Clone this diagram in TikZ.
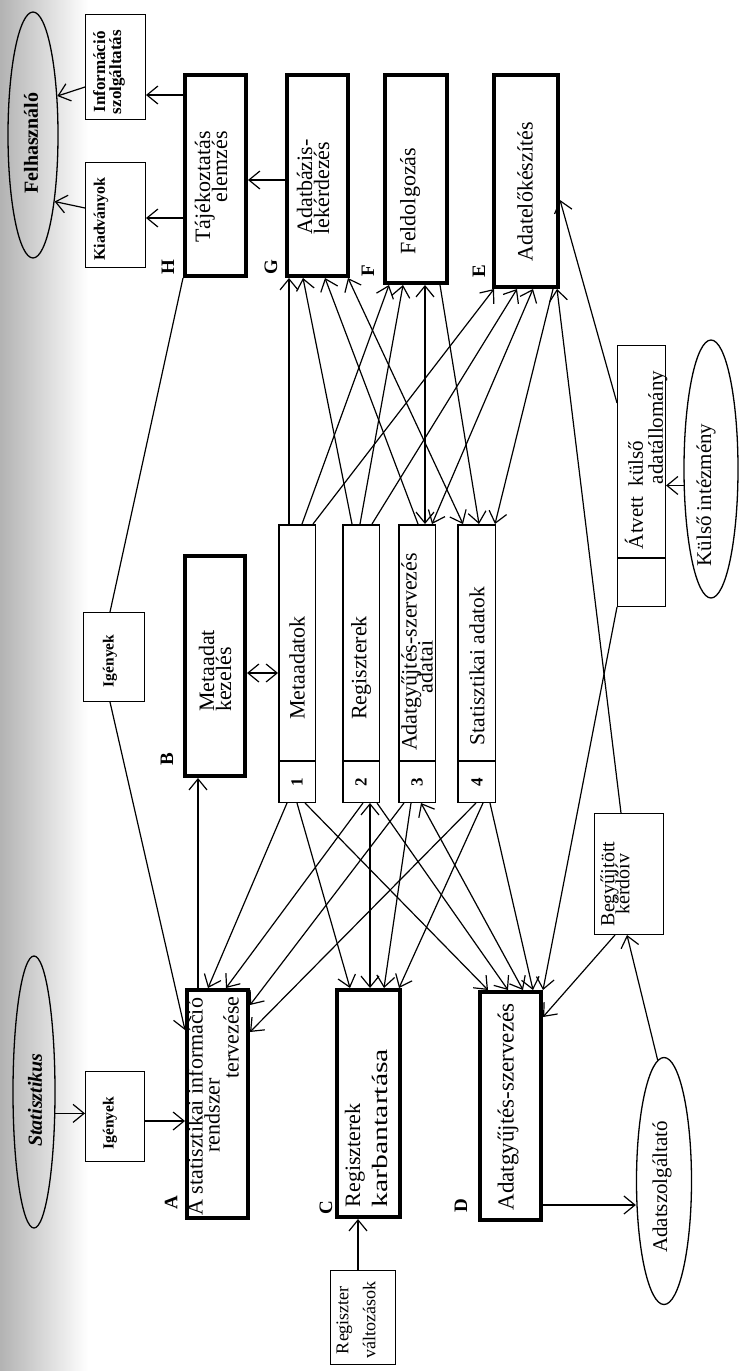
\documentclass[tikz,border=0pt]{standalone}
\usepackage{fontspec}
\usepackage{graphicx}
\setmainfont{Liberation Serif}
\usetikzlibrary{arrows.meta,shapes.geometric}
% font size with tight, fixed leading
\newcommand{\fsz}[2]{\fontsize{#1}{#2}\selectfont\lineskiplimit=-100pt\relax}
\begin{document}
\begin{tikzpicture}[x=1pt,y=-1pt,
  proc/.style={draw, line width=4.4pt, inner sep=0pt},
  plain/.style={draw, line width=1.3pt, inner sep=0pt},
  store/.style={draw, line width=1.5pt, inner sep=0pt},
  oval/.style={draw, ellipse, line width=1.3pt, inner sep=0pt},
  txt/.style={rotate=90, inner sep=0pt, font=\fsz{22}{17}},
  bsmall/.style={rotate=90, inner sep=0pt, font=\bfseries\fsz{16}{16}},
  letter/.style={rotate=90, inner sep=0pt, font=\bfseries\fsz{19}{19}},
  flow/.style={line width=1.2pt, -{Straight Barb[length=11pt,width=18pt]}},
  both/.style={line width=1.2pt, {Straight Barb[length=11pt,width=18pt]}-{Straight Barb[length=11pt,width=18pt]}},
  link/.style={line width=1.2pt},
]
\useasboundingbox (0,0) rectangle (739,1371);
% page gutter shadow
\shade[left color=black!30, right color=white] (0,0) rectangle (88,1371);

% ---------- process boxes ----------
\node[proc, minimum width=60.6pt, minimum height=200.6pt] (H) at (215.5,175.5) {};
\node[proc, minimum width=60.6pt, minimum height=200.6pt] (G) at (317.5,175.5) {};
\node[proc, minimum width=61.6pt, minimum height=207.6pt] (F) at (416,179) {};
\node[proc, minimum width=63.6pt, minimum height=211.6pt] (E) at (526,181) {};
\node[proc, minimum width=59.6pt, minimum height=219.6pt] (B) at (215,666) {};
\node[proc, minimum width=60.6pt, minimum height=227.6pt] (A) at (217.5,1104) {};
\node[proc, minimum width=62.6pt, minimum height=226.6pt] (C) at (368.5,1103.5) {};
\node[proc, minimum width=60.6pt, minimum height=227.6pt] (D) at (510.5,1106) {};

% ---------- plain boxes ----------
\node[plain, minimum width=59.7pt, minimum height=104.7pt] (Info) at (115.5,67) {};
\node[plain, minimum width=59.7pt, minimum height=104.7pt] (Kiad) at (115.5,215) {};
\node[plain, minimum width=60.7pt, minimum height=88.7pt] (Ig2) at (114,657) {};
\node[plain, minimum width=58.7pt, minimum height=89.7pt] (Ig1) at (115,1116.5) {};
\node[plain, minimum width=64.7pt, minimum height=93.7pt] (RegV) at (363,1317.5) {};
\node[plain, minimum width=68.7pt, minimum height=120.7pt] (Begy) at (629,874) {};
\node[plain, minimum width=47.7pt, minimum height=260.7pt] (Atv) at (641.5,476) {};
\draw[line width=1.3pt] (Atv.west |- 0,558) -- (Atv.east |- 0,558);

% ---------- data stores ----------
\node[store, minimum width=36.5pt, minimum height=277.5pt] (S1) at (297,663.5) {};
\node[store, minimum width=36.5pt, minimum height=277.5pt] (S2) at (361,663.5) {};
\node[store, minimum width=36.5pt, minimum height=277.5pt] (S3) at (417,663.5) {};
\node[store, minimum width=37.5pt, minimum height=277.5pt] (S4) at (476.5,663.5) {};
\foreach \s in {S1,S2,S3,S4}
  \draw[line width=1.5pt] (\s.west |- 0,761) -- (\s.east |- 0,761);

% ---------- external entities ----------
\node[oval, minimum width=50pt, minimum height=246pt] (Felh) at (33,135) {};
\node[oval, minimum width=42pt, minimum height=272pt] (Stat) at (34,1092) {};
\node[oval, minimum width=54pt, minimum height=258pt] (Kulso) at (711,469) {};
\node[oval, minimum width=55pt, minimum height=247pt] (Adatsz) at (664,1181) {};

% ---------- texts ----------
\node[txt, align=right] (tH) at (211,187) {Tájékoztatás\\elemzés};
\node[txt, align=left] (tG) at (313,187) {Adatbázis-\\lekérdezés};
\node[txt] (tF) at (410,201) {Feldolgozás};
\node[txt] (tE) at (525,192) {Adatelőkészítés};
\node[txt, align=left] (tB) at (215,671) {Metaadat\\kezelés};
\node[txt, align=left] (tA) at (213,1106)
  {A statisztikai információ\\\hspace*{63pt}rendszer\\[2pt]\hspace*{137pt}tervezése};
\node[txt, align=left] (tC) at (366,1128)
  {Regiszterek\\[10pt]\scalebox{1.35}[1]{karbantartása}};
\node[txt, font=\fsz{23}{17}] (tD) at (508,1107) {Adatgyűjtés-szervezés};

\node[txt] (t1) at (297,668) {Metaadatok};
\node[txt] (t2) at (361,668) {Regiszterek};
\node[txt, align=center, font=\fsz{22}{16}] (t3) at (417,652)
  {Adatgyűjtés-szervezés\\\hspace*{-30pt}adatai};
\node[txt, font=\fsz{21.5}{17}] (t4) at (477,666) {Statisztikai adatok};
\node[letter, font=\bfseries\fsz{17}{17}] (n1) at (297,782) {1};
\node[letter, font=\bfseries\fsz{17}{17}] (n2) at (361,782) {2};
\node[letter, font=\bfseries\fsz{17}{17}] (n3) at (417,782) {3};
\node[letter, font=\bfseries\fsz{17}{17}] (n4) at (477,782) {4};

\node[letter] (lA) at (171,1203) {A};
\node[letter] (lB) at (167,759) {B};
\node[letter] (lC) at (326,1208) {C};
\node[letter] (lD) at (461,1206) {D};
\node[letter] (lE) at (479,271) {E};
\node[letter] (lF) at (368,271) {F};
\node[letter] (lG) at (271,267) {G};
\node[letter] (lH) at (168,267) {H};

\node[bsmall, align=center, font=\bfseries\fsz{17}{16}] (tInfo) at (109,72) {Információ\\szolgáltatás};
\node[bsmall] (tKiad) at (101,219) {Kiadványok};
\node[bsmall, font=\bfseries\fsz{15.5}{16}] (tIg2) at (110,661) {Igények};
\node[bsmall, font=\bfseries\fsz{15.5}{16}] (tIg1) at (110,1123) {Igények};
\node[txt, align=center, font=\fsz{18}{27}] (tRegV) at (356,1320) {Regiszter\\változások};
\node[txt, align=center, font=\fsz{20}{15}] (tBegy) at (615,884) {Begyűjtött\\kérdőív};
\node[txt, align=left, font=\fsz{21}{20}] (tAtv) at (646,460)
  {Átvett\enspace külső\\\hspace*{65pt}adatállomány};

\node[txt, font=\bfseries\fsz{20}{20}] (tFelh) at (31,143) {Felhasználó};
\node[txt, font=\bfseries\itshape\fsz{20}{20}] (tStat) at (35,1100) {Statisztikus};
\node[txt, font=\fsz{21}{20}] (tKulso) at (706,495) {Külső intézmény};
\node[txt, font=\fsz{21}{20}] (tAdatsz) at (662,1187) {Adatszolgáltató};

% ---------- outputs to the user ----------
\draw[flow] (H.west |- 0,95) -- (Info.east |- 0,95);
\draw[flow] (H.west |- 0,218) -- (Kiad.east |- 0,218);
\draw[flow] (Info.west |- 0,87) -- (Felh.58);
\draw[flow] (Kiad.west |- 0,208) -- (Felh.-72);
\draw[flow] (G.west |- 0,180) -- (H.east |- 0,180);

% ---------- needs and planning ----------
\draw[link] (110,0 |- Ig2.north) -- (H.south west);
\draw[flow] (110,0 |- Ig2.south) -- (A.west |- 0,1030);
\draw[flow] (Stat.-45) -- (Stat.-45 -| Ig1.west);
\draw[flow] (Ig1.east |- 0,1121) -- (A.west |- 0,1121);
\draw[flow] (198,0 |- A.north) -- (198,0 |- B.south);
\draw[both] (B.east |- 0,673) -- (S1.west |- 0,673);
\draw[flow] (358,0 |- RegV.north) -- (358,0 |- C.south);

% ---------- stores to upper processes ----------
\draw[flow] (289,0 |- S1.north) -- (289,0 |- G.south);
\draw[flow] (302,0 |- S1.north) -- (389,0 |- F.south);
\draw[flow] (313,0 |- S1.north) -- (494,0 |- E.south);
\draw[flow] (352,0 |- S2.north) -- (303,0 |- G.south);
\draw[flow] (360,0 |- S2.north) -- (403,0 |- F.south);
\draw[flow] (372,0 |- S2.north) -- (517,0 |- E.south);
\draw[flow] (418,0 |- S3.north) -- (325,0 |- G.south);
\draw[both] (425,0 |- S3.north) -- (425,0 |- F.south);
\draw[both] (533,0 |- E.south) -- (432,0 |- S3.north);
\draw[both] (463,0 |- S4.north) -- (348,0 |- G.south);
\draw[flow] (440,0 |- F.south) -- (479,0 |- S4.north);
\draw[flow] (553,0 |- E.south) -- (495,0 |- S4.north);

% ---------- stores to lower processes ----------
\draw[flow] (287,0 |- S1.south) -- (208,0 |- A.north);
\draw[flow] (297,0 |- S1.south) -- (350,0 |- C.north);
\draw[flow] (305,0 |- S1.south) -- (488,0 |- D.north);
\draw[flow] (363,0 |- S2.south) -- (226,0 |- A.north);
\draw[both] (370,0 |- S2.south) -- (370,0 |- C.north);
\draw[flow] (377,0 |- S2.south) -- (508,0 |- D.north);
\draw[flow] (404,0 |- S3.south) -- (A.east |- 0,1005);
\draw[flow] (411,0 |- S3.south) -- (384,0 |- C.north);
\draw[both] (523,0 |- D.north) -- (421,0 |- S3.south);
\draw[flow] (476,0 |- S4.south) -- (A.east |- 0,1032);
\draw[flow] (483,0 |- S4.south) -- (399,0 |- C.north);
\draw[flow] (490,0 |- S4.south) -- (533,0 |- D.north);

% ---------- data collection and external data ----------
\draw[flow] (D.east |- 0,1205) -- (Adatsz.west |- 0,1205);
\draw[flow] (Adatsz.93) -- (627,0 |- Begy.south);
\draw[flow] (615,0 |- Begy.south) -- (D.east |- 0,1017);
\draw[flow] (621,0 |- Begy.north) -- (557,0 |- E.south);
\draw[flow] (Atv.south west) -- (D.north east);
\draw[flow] (Atv.west |- 0,403) -- (E.east |- 0,200);
\draw[flow] (Kulso.211) -- (Kulso.211 -| Atv.east);
\end{tikzpicture}
\end{document}
